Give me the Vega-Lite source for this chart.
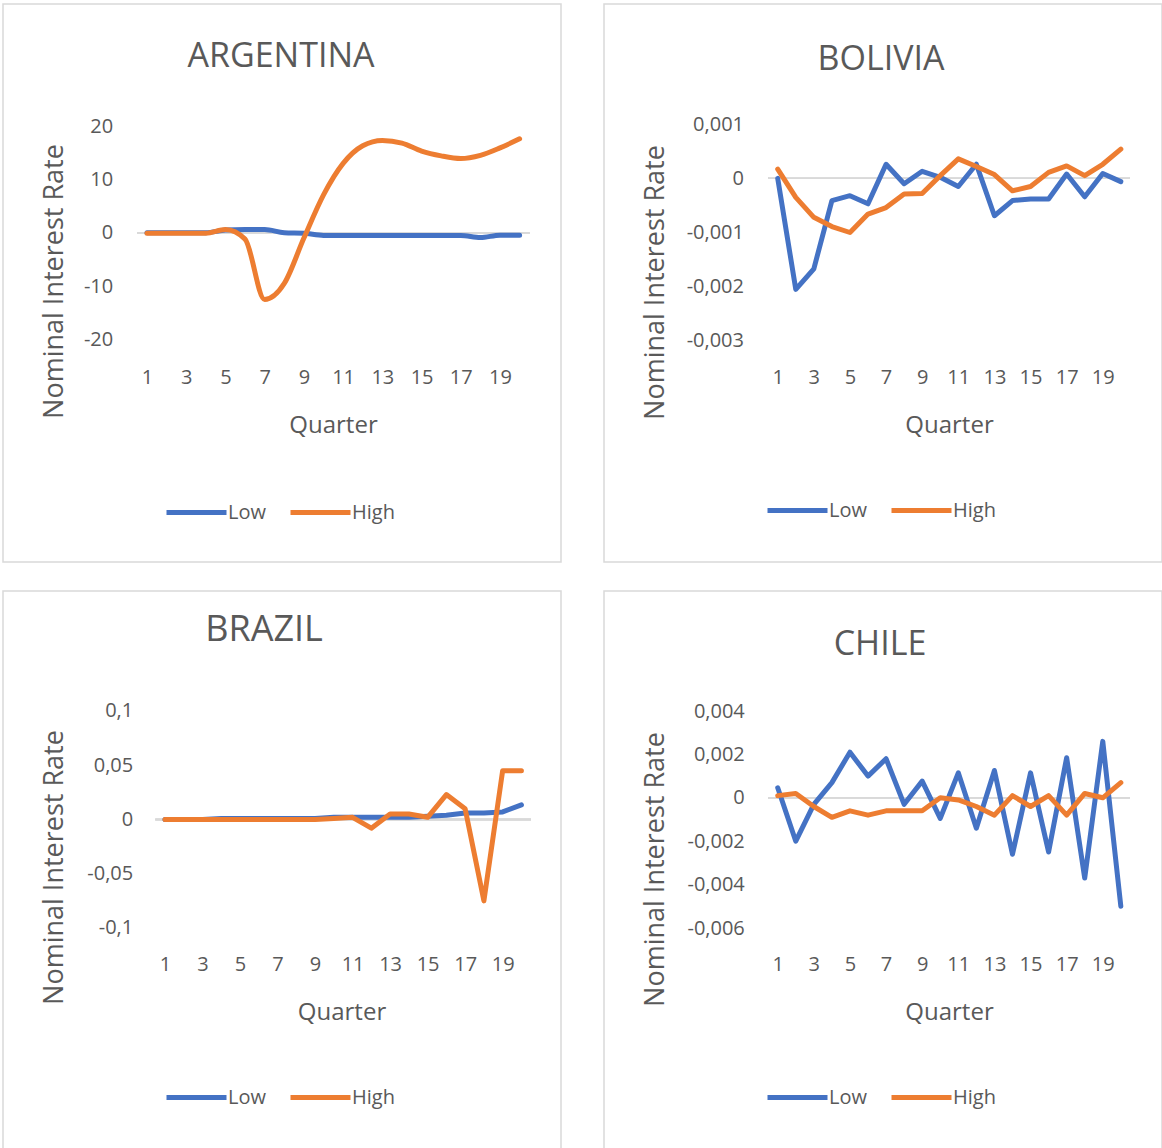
{
  "$schema": "https://vega.github.io/schema/vega-lite/v6.json",
  "padding": {"left": 2, "top": 3, "right": 1, "bottom": 0},
  "bounds": "flush",
  "columns": 2,
  "spacing": {"row": 29, "column": 43},
  "datasets": {
    "arg": [
      {"q":1,"s":"Low","v":0},{"q":2,"s":"Low","v":0},{"q":3,"s":"Low","v":0},{"q":4,"s":"Low","v":0},{"q":5,"s":"Low","v":0.5},{"q":6,"s":"Low","v":0.6},{"q":7,"s":"Low","v":0.6},{"q":8,"s":"Low","v":0},{"q":9,"s":"Low","v":-0.1},{"q":10,"s":"Low","v":-0.5},{"q":11,"s":"Low","v":-0.5},{"q":12,"s":"Low","v":-0.5},{"q":13,"s":"Low","v":-0.5},{"q":14,"s":"Low","v":-0.5},{"q":15,"s":"Low","v":-0.5},{"q":16,"s":"Low","v":-0.5},{"q":17,"s":"Low","v":-0.5},{"q":18,"s":"Low","v":-0.9},{"q":19,"s":"Low","v":-0.45},{"q":20,"s":"Low","v":-0.45},
      {"q":1,"s":"High","v":-0.1},{"q":2,"s":"High","v":-0.1},{"q":3,"s":"High","v":-0.1},{"q":4,"s":"High","v":-0.1},{"q":5,"s":"High","v":0.6},{"q":6,"s":"High","v":-1.2},{"q":7,"s":"High","v":-12.5},{"q":8,"s":"High","v":-9.5},{"q":9,"s":"High","v":-1},{"q":10,"s":"High","v":7.1},{"q":11,"s":"High","v":13},{"q":12,"s":"High","v":16.3},{"q":13,"s":"High","v":17.3},{"q":14,"s":"High","v":16.8},{"q":15,"s":"High","v":15.3},{"q":16,"s":"High","v":14.4},{"q":17,"s":"High","v":13.9},{"q":18,"s":"High","v":14.5},{"q":19,"s":"High","v":15.9},{"q":20,"s":"High","v":17.6}
    ],
    "bol": [
      {"q":1,"s":"Low","v":0},{"q":2,"s":"Low","v":-0.00205},{"q":3,"s":"Low","v":-0.00167},{"q":4,"s":"Low","v":-0.00041},{"q":5,"s":"Low","v":-0.00032},{"q":6,"s":"Low","v":-0.00047},{"q":7,"s":"Low","v":0.00026},{"q":8,"s":"Low","v":-0.0001},{"q":9,"s":"Low","v":0.00013},{"q":10,"s":"Low","v":0.00002},{"q":11,"s":"Low","v":-0.00015},{"q":12,"s":"Low","v":0.00026},{"q":13,"s":"Low","v":-0.00069},{"q":14,"s":"Low","v":-0.00041},{"q":15,"s":"Low","v":-0.00038},{"q":16,"s":"Low","v":-0.00038},{"q":17,"s":"Low","v":0.00008},{"q":18,"s":"Low","v":-0.00034},{"q":19,"s":"Low","v":0.00009},{"q":20,"s":"Low","v":-0.00006},
      {"q":1,"s":"High","v":0.00017},{"q":2,"s":"High","v":-0.00035},{"q":3,"s":"High","v":-0.00072},{"q":4,"s":"High","v":-0.00089},{"q":5,"s":"High","v":-0.001},{"q":6,"s":"High","v":-0.00066},{"q":7,"s":"High","v":-0.00054},{"q":8,"s":"High","v":-0.00029},{"q":9,"s":"High","v":-0.00028},{"q":10,"s":"High","v":0.00005},{"q":11,"s":"High","v":0.00036},{"q":12,"s":"High","v":0.00022},{"q":13,"s":"High","v":0.00007},{"q":14,"s":"High","v":-0.00023},{"q":15,"s":"High","v":-0.00015},{"q":16,"s":"High","v":0.00011},{"q":17,"s":"High","v":0.00023},{"q":18,"s":"High","v":0.00005},{"q":19,"s":"High","v":0.00026},{"q":20,"s":"High","v":0.00054}
    ],
    "bra": [
      {"q":1,"s":"Low","v":0},{"q":2,"s":"Low","v":0},{"q":3,"s":"Low","v":0},{"q":4,"s":"Low","v":0.001},{"q":5,"s":"Low","v":0.001},{"q":6,"s":"Low","v":0.001},{"q":7,"s":"Low","v":0.001},{"q":8,"s":"Low","v":0.001},{"q":9,"s":"Low","v":0.001},{"q":10,"s":"Low","v":0.002},{"q":11,"s":"Low","v":0.002},{"q":12,"s":"Low","v":0.002},{"q":13,"s":"Low","v":0.002},{"q":14,"s":"Low","v":0.002},{"q":15,"s":"Low","v":0.003},{"q":16,"s":"Low","v":0.004},{"q":17,"s":"Low","v":0.006},{"q":18,"s":"Low","v":0.006},{"q":19,"s":"Low","v":0.007},{"q":20,"s":"Low","v":0.0135},
      {"q":1,"s":"High","v":0},{"q":2,"s":"High","v":0},{"q":3,"s":"High","v":0},{"q":4,"s":"High","v":0},{"q":5,"s":"High","v":0},{"q":6,"s":"High","v":0},{"q":7,"s":"High","v":0},{"q":8,"s":"High","v":0},{"q":9,"s":"High","v":0},{"q":10,"s":"High","v":0.001},{"q":11,"s":"High","v":0.002},{"q":12,"s":"High","v":-0.008},{"q":13,"s":"High","v":0.005},{"q":14,"s":"High","v":0.005},{"q":15,"s":"High","v":0.002},{"q":16,"s":"High","v":0.023},{"q":17,"s":"High","v":0.01},{"q":18,"s":"High","v":-0.075},{"q":19,"s":"High","v":0.045},{"q":20,"s":"High","v":0.045}
    ],
    "chi": [
      {"q":1,"s":"Low","v":0.00046},{"q":2,"s":"Low","v":-0.002},{"q":3,"s":"Low","v":-0.0003},{"q":4,"s":"Low","v":0.0007},{"q":5,"s":"Low","v":0.0021},{"q":6,"s":"Low","v":0.001},{"q":7,"s":"Low","v":0.0018},{"q":8,"s":"Low","v":-0.0003},{"q":9,"s":"Low","v":0.00077},{"q":10,"s":"Low","v":-0.00095},{"q":11,"s":"Low","v":0.00115},{"q":12,"s":"Low","v":-0.0014},{"q":13,"s":"Low","v":0.00126},{"q":14,"s":"Low","v":-0.0026},{"q":15,"s":"Low","v":0.00115},{"q":16,"s":"Low","v":-0.0025},{"q":17,"s":"Low","v":0.00185},{"q":18,"s":"Low","v":-0.0037},{"q":19,"s":"Low","v":0.0026},{"q":20,"s":"Low","v":-0.005},
      {"q":1,"s":"High","v":0.0001},{"q":2,"s":"High","v":0.0002},{"q":3,"s":"High","v":-0.0004},{"q":4,"s":"High","v":-0.0009},{"q":5,"s":"High","v":-0.0006},{"q":6,"s":"High","v":-0.0008},{"q":7,"s":"High","v":-0.0006},{"q":8,"s":"High","v":-0.0006},{"q":9,"s":"High","v":-0.0006},{"q":10,"s":"High","v":0},{"q":11,"s":"High","v":-0.0001},{"q":12,"s":"High","v":-0.0004},{"q":13,"s":"High","v":-0.0008},{"q":14,"s":"High","v":0.0001},{"q":15,"s":"High","v":-0.0004},{"q":16,"s":"High","v":0.0001},{"q":17,"s":"High","v":-0.0008},{"q":18,"s":"High","v":0.0002},{"q":19,"s":"High","v":0},{"q":20,"s":"High","v":0.0007}
    ]
  },
  "concat": [
    {
      "width": 558, "height": 558,
      "title": {"text": "ARGENTINA", "dy": 74, "dx": -1},
      "data": {"name": "arg"},
      "layer": [
        {"mark": {"type": "rule", "color": "#d9d9d9", "strokeWidth": 1.3},
         "encoding": {"x": {"datum": 0.5, "type": "quantitative"}, "x2": {"datum": 20.5}, "y": {"datum": 0, "type": "quantitative"}}},
        {"mark": {"type": "line", "strokeWidth": 5, "strokeCap": "round", "strokeJoin": "round", "interpolate": "monotone"},
         "encoding": {
           "x": {"field": "q", "type": "quantitative", "scale": {"domain": [-6.343, 22.11], "nice": false, "zero": false},
                 "axis": {"values": [1,3,5,7,9,11,13,15,17,19], "title": "Quarter", "titleX": 330}},
           "y": {"field": "v", "type": "quantitative", "scale": {"domain": [-61.69, 42.86], "nice": false, "zero": false},
                 "axis": {"values": [-20,-10,0,10,20], "format": "~r", "offset": -113.7, "title": "Nominal Interest Rate", "titleX": -54, "titleY": 277}},
           "color": {"field": "s", "type": "nominal", "scale": {"domain": ["Low","High"], "range": ["#4472C4","#ED7D31"]},
                     "legend": {"title": null, "legendX": 161, "legendY": 476}}
         }}
      ]
    },
    {
      "width": 558, "height": 558,
      "title": {"text": "BOLIVIA", "dy": 77, "dx": -2},
      "data": {"name": "bol"},
      "layer": [
        {"mark": {"type": "rule", "color": "#d9d9d9", "strokeWidth": 1.3},
         "encoding": {"x": {"datum": 0.5, "type": "quantitative"}, "x2": {"datum": 20.5}, "y": {"datum": 0, "type": "quantitative"}}},
        {"mark": {"type": "line", "strokeWidth": 5, "strokeCap": "round", "strokeJoin": "round"},
         "encoding": {
           "x": {"field": "q", "type": "quantitative", "scale": {"domain": [-8.62, 22.28], "nice": false, "zero": false},
                 "axis": {"values": [1,3,5,7,9,11,13,15,17,19], "title": "Quarter", "titleX": 345}},
           "y": {"field": "v", "type": "quantitative", "scale": {"domain": [-0.007085, 0.0032198], "nice": false, "zero": false},
                 "axis": {"values": [-0.003,-0.002,-0.001,0,0.001], "format": "~r", "offset": -143.5, "title": "Nominal Interest Rate", "titleX": -84.5, "titleY": 278}},
           "color": {"field": "s", "type": "nominal", "scale": {"domain": ["Low","High"], "range": ["#4472C4","#ED7D31"]},
                     "legend": {"title": null, "legendX": 161, "legendY": 474}}
         }}
      ]
    },
    {
      "width": 558, "height": 558,
      "title": {"text": "BRAZIL", "dy": 62, "dx": -18, "fontSize": 36},
      "data": {"name": "bra"},
      "layer": [
        {"mark": {"type": "rule", "color": "#d9d9d9", "strokeWidth": 1.3},
         "encoding": {"x": {"datum": 0.5, "type": "quantitative"}, "x2": {"datum": 20.5}, "y": {"datum": 0, "type": "quantitative"}}},
        {"mark": {"type": "line", "strokeWidth": 5, "strokeCap": "round", "strokeJoin": "round"},
         "encoding": {
           "x": {"field": "q", "type": "quantitative", "scale": {"domain": [-7.635, 22.11], "nice": false, "zero": false},
                 "axis": {"values": [1,3,5,7,9,11,13,15,17,19], "title": "Quarter", "titleX": 338.5}},
           "y": {"field": "v", "type": "quantitative", "scale": {"domain": [-0.3037, 0.2106], "nice": false, "zero": false},
                 "axis": {"values": [-0.1,-0.05,0,0.05,0.1], "format": "~r", "offset": -133.7, "title": "Nominal Interest Rate", "titleX": -74, "titleY": 276}},
           "color": {"field": "s", "type": "nominal", "scale": {"domain": ["Low","High"], "range": ["#4472C4","#ED7D31"]},
                     "legend": {"title": null, "legendX": 161, "legendY": 474}}
         }}
      ]
    },
    {
      "width": 558, "height": 558,
      "title": {"text": "CHILE", "dy": 75, "dx": -3},
      "data": {"name": "chi"},
      "layer": [
        {"mark": {"type": "rule", "color": "#d9d9d9", "strokeWidth": 1.3},
         "encoding": {"x": {"datum": 0.5, "type": "quantitative"}, "x2": {"datum": 20.5}, "y": {"datum": 0, "type": "quantitative"}}},
        {"mark": {"type": "line", "strokeWidth": 5, "strokeCap": "round", "strokeJoin": "round"},
         "encoding": {
           "x": {"field": "q", "type": "quantitative", "scale": {"domain": [-8.62, 22.28], "nice": false, "zero": false},
                 "axis": {"values": [1,3,5,7,9,11,13,15,17,19], "title": "Quarter", "titleX": 345}},
           "y": {"field": "v", "type": "quantitative", "scale": {"domain": [-0.016184, 0.00953], "nice": false, "zero": false},
                 "axis": {"values": [-0.006,-0.004,-0.002,0,0.002,0.004], "format": "~r", "offset": -144.3, "title": "Nominal Interest Rate", "titleX": -85, "titleY": 278}},
           "color": {"field": "s", "type": "nominal", "scale": {"domain": ["Low","High"], "range": ["#4472C4","#ED7D31"]},
                     "legend": {"title": null, "legendX": 161, "legendY": 474}}
         }}
      ]
    }
  ],
  "resolve": {
    "scale": {"x": "independent", "y": "independent", "color": "independent"},
    "axis": {"x": "independent", "y": "independent"},
    "legend": {"color": "independent"}
  },
  "config": {
    "font": "Open Sans",
    "locale": {"number": {"decimal": ",", "thousands": ".", "grouping": [3], "currency": ["", ""], "minus": "-"}},
    "view": {"stroke": "#d9d9d9", "strokeWidth": 1.5},
    "title": {"fontSize": 34, "fontWeight": "normal", "color": "#595959", "anchor": "middle", "frame": "group", "baseline": "alphabetic", "offset": 0, "font": "Open Sans"},
    "axis": {"domain": false, "ticks": false, "grid": false, "labelFontSize": 20, "labelColor": "#595959", "titleColor": "#595959", "titleFontWeight": "normal", "labelFont": "Open Sans", "titleFont": "Open Sans", "labelOverlap": false, "labelFlush": false},
    "axisX": {"labelBaseline": "middle", "labelPadding": 0, "offset": -184.3, "titleFontSize": 24, "titleY": 47.5, "titleBaseline": "middle", "titleAlign": "center", "titleAnchor": null},
    "axisY": {"labelPadding": 4, "labelBaseline": "middle", "titleFontSize": 27, "titleBaseline": "alphabetic", "titleAlign": "center", "titleAngle": 270},
    "legend": {"orient": "none", "direction": "horizontal", "symbolType": "stroke", "symbolSize": 3600, "symbolStrokeWidth": 5, "labelFontSize": 20, "labelColor": "#595959", "labelFont": "Open Sans", "labelOffset": -1, "columnPadding": 14, "gridAlign": "none", "padding": 0}
  }
}
